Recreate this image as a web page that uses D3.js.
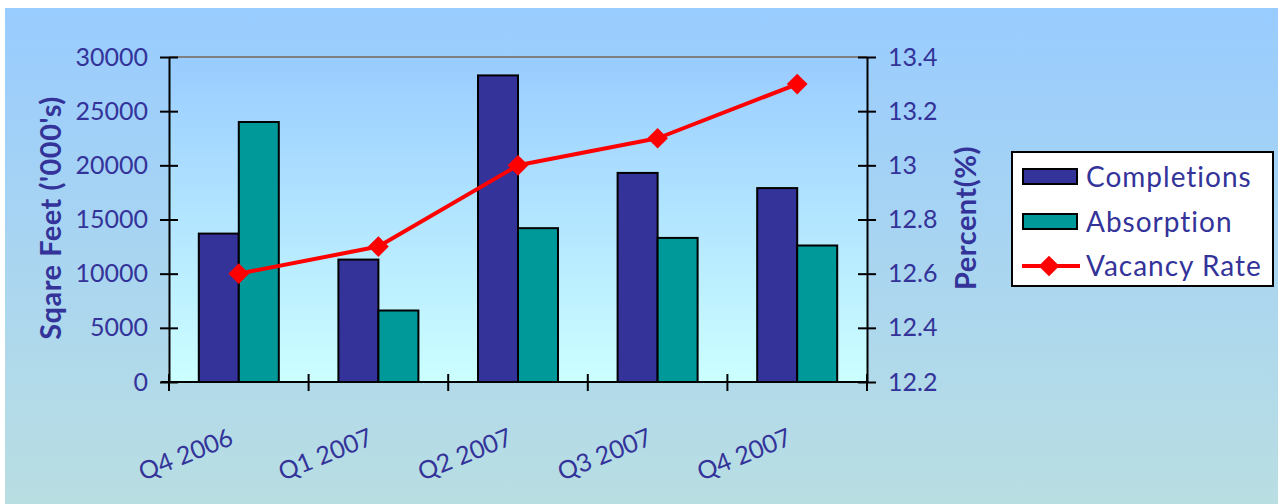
<!DOCTYPE html>
<html>
<head>
<meta charset="utf-8">
<script src="https://cdn.jsdelivr.net/npm/d3@7"></script>
<style>
  html, body { margin: 0; padding: 0; background: #ffffff; }
  svg { display: block; }
  text { font-family: "Lato", "Liberation Sans", sans-serif; fill: #333399; }
</style>
</head>
<body>
<svg id="chart" width="1278" height="504"></svg>
<script>
// Quarterly office market data
const categories = ["Q4 2006", "Q1 2007", "Q2 2007", "Q3 2007", "Q4 2007"];
const completions = [13700, 11300, 28300, 19300, 17900];
const absorption = [24000, 6600, 14200, 13300, 12600];
const vacancyRate = [12.6, 12.7, 13.0, 13.1, 13.3];
const leftTicks = [0, 5000, 10000, 15000, 20000, 25000, 30000];
const rightTicks = [12.2, 12.4, 12.6, 12.8, 13, 13.2, 13.4];
const barSeries = ["Completions", "Absorption"];
const barColors = ["#333399", "#009999"];
const lineColor = "#FF0000";

const W = 1278, H = 504;
const plot = { left: 169, right: 867, top: 57, bottom: 382 };

const svg = d3.select("#chart");
const defs = svg.append("defs");

const bgGrad = defs.append("linearGradient").attr("id", "bgGrad")
  .attr("x1", 0).attr("y1", 0).attr("x2", 0).attr("y2", 1);
bgGrad.append("stop").attr("offset", "0%").attr("stop-color", "#99CCFF");
bgGrad.append("stop").attr("offset", "100%").attr("stop-color", "#B9DEE2");

const plotGrad = defs.append("linearGradient").attr("id", "plotGrad")
  .attr("x1", 0).attr("y1", 0).attr("x2", 0).attr("y2", 1);
plotGrad.append("stop").attr("offset", "0%").attr("stop-color", "#99CCFF");
plotGrad.append("stop").attr("offset", "100%").attr("stop-color", "#CCFFFF");

// chart area background
svg.append("rect").attr("x", 5).attr("y", 8).attr("width", W - 5).attr("height", H - 8)
  .attr("fill", "url(#bgGrad)");

// plot area background
svg.append("rect").attr("x", plot.left).attr("y", plot.top)
  .attr("width", plot.right - plot.left).attr("height", plot.bottom - plot.top)
  .attr("fill", "url(#plotGrad)");

// plot area top border
svg.append("line").attr("x1", plot.left).attr("x2", plot.right)
  .attr("y1", plot.top).attr("y2", plot.top)
  .attr("stroke", "#808080").attr("stroke-width", 2);

// scales
const x = d3.scaleBand().domain(categories).range([plot.left, plot.right]).padding(0);
const xs = d3.scaleBand().domain(barSeries).range([0, x.bandwidth()])
  .paddingInner(0).paddingOuter(0.745);
const yL = d3.scaleLinear().domain([0, 30000]).range([plot.bottom, plot.top]);
const yR = d3.scaleLinear().domain([12.2, 13.4]).range([plot.bottom, plot.top]);

// bars
const barData = [completions, absorption];
barSeries.forEach((s, si) => {
  svg.append("g").selectAll("rect")
    .data(categories.map((c, i) => ({ c, v: barData[si][i] })))
    .join("rect")
    .attr("x", d => x(d.c) + xs(s))
    .attr("y", d => yL(d.v))
    .attr("width", xs.bandwidth())
    .attr("height", d => yL(0) - yL(d.v))
    .attr("fill", barColors[si])
    .attr("stroke", "#000")
    .attr("stroke-width", 2);
});

// left axis
const axL = svg.append("g").attr("transform", `translate(${plot.left},0)`)
  .call(d3.axisLeft(yL).tickValues(leftTicks).tickFormat(d3.format("d"))
    .tickSizeInner(9).tickSizeOuter(0).tickPadding(12));
axL.select(".domain").attr("stroke", "#000").attr("stroke-width", 2);
axL.selectAll(".tick line").attr("x1", 9).attr("stroke", "#000").attr("stroke-width", 2);
axL.selectAll(".tick text").attr("font-size", 25).attr("fill", "#333399")
  .style("font-family", "Lato, sans-serif");

// right axis
const axR = svg.append("g").attr("transform", `translate(${plot.right},0)`)
  .call(d3.axisRight(yR).tickValues(rightTicks).tickFormat(d => d3.format("")(+d.toFixed(1)))
    .tickSizeInner(9).tickSizeOuter(0).tickPadding(12));
axR.select(".domain").attr("stroke", "#000").attr("stroke-width", 2);
axR.selectAll(".tick line").attr("x1", -9).attr("stroke", "#000").attr("stroke-width", 2);
axR.selectAll(".tick text").attr("font-size", 25).attr("fill", "#333399")
  .style("font-family", "Lato, sans-serif");

// bottom axis: ticks at category boundaries, labels rotated
const boundaries = categories.map(c => x(c)).concat([x(categories[categories.length - 1]) + x.bandwidth()]);
const axB = svg.append("g");
axB.append("line").attr("x1", plot.left - 8).attr("x2", plot.right)
  .attr("y1", plot.bottom).attr("y2", plot.bottom)
  .attr("stroke", "#000").attr("stroke-width", 2);
axB.selectAll("line.tk").data(boundaries).join("line").attr("class", "tk")
  .attr("x1", d => d).attr("x2", d => d)
  .attr("y1", plot.bottom - 8).attr("y2", plot.bottom + 9)
  .attr("stroke", "#000").attr("stroke-width", 2);
axB.selectAll("text").data(categories).join("text")
  .attr("transform", d => `translate(${x(d) + x.bandwidth() / 2 - 4},${plot.bottom + 62}) rotate(-22)`)
  .attr("text-anchor", "end")
  .attr("font-size", 25)
  .text(d => d);

// vacancy rate line
const cx = c => x(c) + x.bandwidth() / 2;
const line = d3.line().x((d, i) => cx(categories[i])).y(d => yR(d));
svg.append("path").datum(vacancyRate).attr("d", line)
  .attr("fill", "none").attr("stroke", lineColor).attr("stroke-width", 4)
  .attr("stroke-linejoin", "round");
const diamond = d3.symbol().type(d3.symbolSquare).size(215);
svg.append("g").selectAll("path").data(vacancyRate).join("path")
  .attr("transform", (d, i) => `translate(${cx(categories[i])},${yR(d)}) rotate(45)`)
  .attr("d", diamond).attr("fill", lineColor);

// axis titles
svg.append("text")
  .attr("transform", `translate(61,218) rotate(-90)`)
  .attr("text-anchor", "middle").attr("font-size", 29).attr("font-weight", "bold")
  .attr("letter-spacing", 0.5)
  .text("Sqare Feet ('000's)");
svg.append("text")
  .attr("transform", `translate(976,218) rotate(-90)`)
  .attr("text-anchor", "middle").attr("font-size", 29).attr("font-weight", "bold")
  .attr("letter-spacing", 0.5)
  .text("Percent(%)");

// legend
const lg = svg.append("g");
lg.append("rect").attr("x", 1012).attr("y", 152).attr("width", 261).attr("height", 134)
  .attr("fill", "#fff").attr("stroke", "#000").attr("stroke-width", 2);
const legendItems = [
  { name: "Completions", type: "bar", color: barColors[0] },
  { name: "Absorption", type: "bar", color: barColors[1] },
  { name: "Vacancy Rate", type: "line", color: lineColor }
];
const rowY = [176.5, 221.5, 266];
legendItems.forEach((it, i) => {
  const yy = rowY[i];
  if (it.type === "bar") {
    lg.append("rect").attr("x", 1023).attr("y", yy - 7.5).attr("width", 54).attr("height", 15)
      .attr("fill", it.color).attr("stroke", "#000").attr("stroke-width", 2);
  } else {
    lg.append("line").attr("x1", 1022).attr("x2", 1080).attr("y1", yy).attr("y2", yy)
      .attr("stroke", it.color).attr("stroke-width", 4);
    lg.append("path").attr("transform", `translate(1049,${yy}) rotate(45)`)
      .attr("d", diamond).attr("fill", it.color);
  }
  lg.append("text").attr("x", 1086).attr("y", yy).attr("dy", "0.36em")
    .attr("font-size", 28).attr("letter-spacing", 1).text(it.name);
});
</script>
</body>
</html>
